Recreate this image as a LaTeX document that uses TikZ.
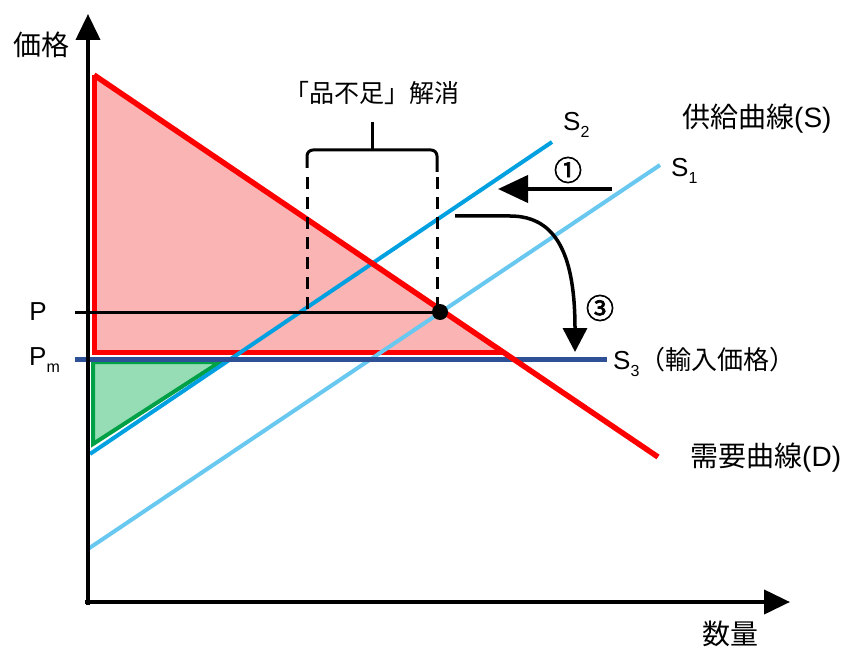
\documentclass[tikz,border=0pt]{standalone}
\usepackage{fontspec}
\setmainfont{Liberation Sans}
\newfontfamily\jp{Noto Sans CJK JP}
\newfontfamily\jpb[FakeBold=2.5]{Noto Sans CJK JP}
\usetikzlibrary{arrows.meta}
\newcommand\mysub[1]{\raisebox{-0.45ex}{\fontsize{16}{16}\selectfont #1}}
\definecolor{dred}{RGB}{255,0,0}
\definecolor{pinkfill}{RGB}{250,180,180}
\definecolor{stwo}{RGB}{0,160,225}
\definecolor{sone}{RGB}{105,200,240}
\definecolor{sthree}{RGB}{45,80,150}
\definecolor{gline}{RGB}{0,160,70}
\definecolor{gfill}{RGB}{150,220,180}
\begin{document}
\begin{tikzpicture}[x=1pt,y=-1pt,
  font=\fontsize{28}{32}\selectfont,
  lbl/.style={inner sep=0pt},
  latin/.style={inner sep=0pt,font=\fontsize{26}{30}\selectfont},
  axisline/.style={line width=4pt,-{Triangle[width=24pt,length=26pt]}},
  dashline/.style={line width=3pt,dash pattern=on 12pt off 8pt},
  bracket/.style={line width=3pt,rounded corners=6pt},
  bigarrow/.style={line width=4pt,-{Triangle[width=27pt,length=30pt]}}]
\useasboundingbox (0,0) rectangle (850,652);
% coordinates
\coordinate (o) at (88,605);
\coordinate (ytop) at (88,14);
\coordinate (xo) at (85,602);
\coordinate (xend) at (790,602);
\coordinate (dtop) at (94,75);
\coordinate (dend) at (658,457);
\coordinate (tbl) at (94,352);
\coordinate (tbr) at (502,352);
\coordinate (gtl) at (93,362);
\coordinate (gbl) at (93,444);
\coordinate (gtr) at (220,362);
\coordinate (s2a) at (90,454);
\coordinate (s2b) at (552,142);
\coordinate (s1a) at (88,549);
\coordinate (s1b) at (660,165);
\coordinate (s3a) at (75,359);
\coordinate (s3b) at (607,359);
\coordinate (pa) at (75,312);
\coordinate (eq) at (440,312);
\coordinate (dl1) at (307,177);
\coordinate (dl2) at (307,312);
\coordinate (dr1) at (437,177);
\coordinate (dr2) at (437,312);
\coordinate (bl) at (307,168);
\coordinate (bt1) at (307,150);
\coordinate (bt2) at (437,150);
\coordinate (br) at (437,172);
\coordinate (bm) at (372,150);
\coordinate (bmt) at (372,122);
\coordinate (a1s) at (612,189);
\coordinate (a1e) at (498,189);
\coordinate (a3s) at (455,216);
\coordinate (a3m) at (510,216);
\coordinate (a3e) at (575,352);
% fills
\fill[pinkfill] (dtop) -- (tbl) -- (tbr) -- cycle;
\draw[dred,line width=5pt,line join=miter] (dtop) -- (tbl) -- (tbr);
\filldraw[fill=gfill,draw=gline,line width=4pt] (gtl) -- (gbl) -- (gtr) -- cycle;
% supply lines
\draw[sone,line width=4pt] (s1a) -- (s1b);
\draw[stwo,line width=4pt] (s2a) -- (s2b);
\draw[sthree,line width=5pt] (s3a) -- (s3b);
% demand
\draw[dred,line width=5.5pt] (dtop) -- (dend);
% P line
\draw[line width=3pt] (pa) -- (eq);
% dashed and bracket
\draw[dashline] (dl1) -- (dl2);
\draw[dashline] (dr1) -- (dr2);
\draw[bracket] (bl) -- (bt1) -- (bt2) -- (br);
\draw[line width=3pt] (bm) -- (bmt);
% axes
\draw[axisline] (o) -- (ytop);
\draw[axisline] (xo) -- (xend);
% equilibrium dot
\fill (eq) circle (8pt);
% arrows
\draw[bigarrow] (a1s) -- (a1e);
\draw[line width=3.5pt,-{Triangle[width=24pt,length=24pt]}] (a3s) -- (a3m) .. controls (558,216) and (575,258) .. (a3e);
% labels
\node[lbl] (ylab) at (41,45) {\jp 価格};
\node[lbl] (xlab) at (730,634) {\jp 数量};
\node[lbl,font=\fontsize{25}{30}\selectfont] (shortage) at (372,93) {\jp 「品不足」解消};
\node[latin,anchor=west] (s2lab) at (563,125) {S\mysub{2}};
\node[lbl,anchor=west] (supply) at (682,119) {\jp 供給曲線\rmfamily(S)};
\node[latin,anchor=west] (s1lab) at (671,171) {S\mysub{1}};
\node[lbl] (one) at (568,170) {\jpb ①};
\node[lbl] (three) at (600,308) {\jpb ③};
\node[lbl,anchor=west] (s3lab) at (613,362) {\fontsize{26}{30}\selectfont S\mysub{3}\jp（輸入価格）};
\node[lbl,anchor=west] (demand) at (690,458) {\jp 需要曲線\rmfamily(D)};
\node[latin] (plab) at (38,312) {P};
\node[latin,anchor=west] (pmlab) at (29,360) {P\mysub{m}};
\end{tikzpicture}
\end{document}
